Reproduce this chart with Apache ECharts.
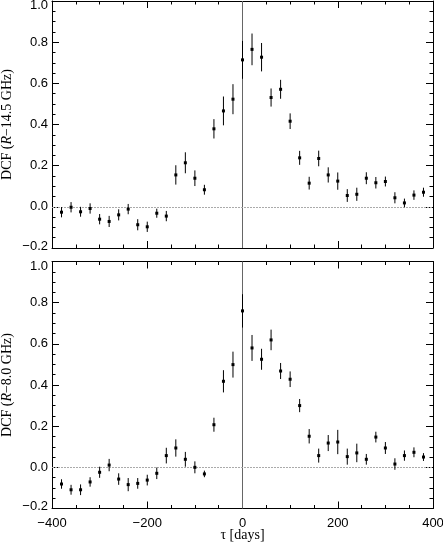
<!DOCTYPE html>
<html>
<head>
<meta charset="utf-8">
<script src="https://cdn.jsdelivr.net/npm/echarts@6/dist/echarts.min.js"></script>
<style>
  html, body { margin: 0; padding: 0; background: #fff; }
  #chart { width: 443px; height: 544px; }
</style>
</head>
<body>
<div id="chart"></div>
<script>
// time lags (days)
var taus = [-380, -360, -340, -320, -300, -280, -260, -240, -220, -200,
            -180, -160, -140, -120, -100, -80, -60, -40, -20, 0,
            20, 40, 60, 80, 100, 120, 140, 160, 180, 200,
            220, 240, 260, 280, 300, 320, 340, 360, 380];

// DCF R - 14.5 GHz
var dcf14 = [-0.026, -0.002, -0.024, -0.008, -0.060, -0.071, -0.039, -0.011, -0.087, -0.097,
             -0.031, -0.045, 0.155, 0.214, 0.139, 0.083, 0.379, 0.466, 0.523, 0.714,
             0.765, 0.727, 0.531, 0.571, 0.416, 0.238, 0.115, 0.235, 0.155, 0.125,
             0.055, 0.061, 0.139, 0.117, 0.123, 0.044, 0.019, 0.057, 0.071];
var err14 = [0.025, 0.025, 0.024, 0.025, 0.025, 0.027, 0.027, 0.025, 0.027, 0.025,
             0.022, 0.025, 0.047, 0.051, 0.038, 0.024, 0.047, 0.070, 0.073, 0.092,
             0.077, 0.069, 0.044, 0.046, 0.038, 0.034, 0.031, 0.038, 0.037, 0.042,
             0.031, 0.032, 0.029, 0.028, 0.024, 0.027, 0.021, 0.023, 0.022];

// DCF R - 8.0 GHz
var dcf8 = [-0.081, -0.109, -0.109, -0.071, -0.024, 0.011, -0.057, -0.084, -0.078, -0.062,
            -0.029, 0.057, 0.094, 0.039, 0.000, -0.032, 0.207, 0.418, 0.499, 0.760,
            0.580, 0.525, 0.619, 0.468, 0.428, 0.300, 0.151, 0.057, 0.118, 0.123,
            0.052, 0.070, 0.039, 0.147, 0.094, 0.016, 0.057, 0.073, 0.050];
var err8 = [0.023, 0.024, 0.026, 0.023, 0.027, 0.030, 0.028, 0.032, 0.026, 0.026,
            0.028, 0.038, 0.042, 0.036, 0.029, 0.016, 0.034, 0.054, 0.063, 0.081,
            0.063, 0.051, 0.050, 0.039, 0.038, 0.032, 0.035, 0.034, 0.039, 0.059,
            0.039, 0.045, 0.026, 0.026, 0.029, 0.028, 0.025, 0.024, 0.019];

var xTicks = [-400, -200, 0, 200, 400];
var yTicks = [-0.2, 0.0, 0.2, 0.4, 0.6, 0.8, 1.0];

function pack(vals, errs) {
  return taus.map(function (t, i) { return [t, vals[i], errs[i]]; });
}

function renderItem(params, api) {
  var t = api.value(0), v = api.value(1), e = api.value(2);
  var p = api.coord([t, v]);
  var hi = api.coord([t, v + e]);
  var lo = api.coord([t, v - e]);
  return {
    type: 'group',
    children: [
      { type: 'line', shape: { x1: p[0], y1: hi[1], x2: p[0], y2: lo[1] },
        style: { stroke: '#000', lineWidth: 1 } },
      { type: 'rect', shape: { x: p[0] - 1.5, y: p[1] - 1.5, width: 3, height: 3 },
        style: { fill: '#000' } }
    ]
  };
}

var sans = 'Liberation Sans';
var serif = 'Liberation Serif';
var fmtNum = function (v) { return String(v).replace('-', '\u2212'); };

function xAx(grid, pos, labels, name) {
  return {
    type: 'value', gridIndex: grid, position: pos,
    min: xTicks[0], max: xTicks[xTicks.length - 1], interval: 200,
    axisLine: { show: true, onZero: false, lineStyle: { color: '#000', width: 1 } },
    axisTick: { show: true, inside: true, length: 7, lineStyle: { color: '#000' } },
    minorTick: { show: true, splitNumber: 4, length: 3.5, lineStyle: { color: '#000' } },
    splitLine: { show: false },
    axisLabel: { show: labels, color: '#000', fontFamily: sans, fontSize: 13, margin: 8,
                 formatter: fmtNum },
    name: name || '', nameLocation: 'middle', nameGap: 20, nameMoveOverlap: false,
    nameTextStyle: { fontFamily: serif, fontSize: 14, color: '#000' }
  };
}

function yAx(grid, pos, labels, name) {
  return {
    type: 'value', gridIndex: grid, position: pos,
    min: yTicks[0], max: yTicks[yTicks.length - 1], interval: 0.2,
    axisLine: { show: true, onZero: false, lineStyle: { color: '#000', width: 1 } },
    axisTick: { show: true, inside: true, length: 7, lineStyle: { color: '#000' } },
    minorTick: { show: true, splitNumber: 4, length: 3.5, lineStyle: { color: '#000' } },
    splitLine: { show: false },
    axisLabel: {
      show: labels, color: '#000', fontFamily: sans, fontSize: 13, margin: 4,
      formatter: function (v) {
        var s = fmtNum(v.toFixed(1));
        if (v >= 0.99) return '{top|' + s + '}';
        if (v <= -0.19) return '{bot|' + s + '}';
        return s;
      },
      rich: {
        top: { fontFamily: sans, fontSize: 13, color: '#000', padding: [9, 0, 0, 0] },
        bot: { fontFamily: sans, fontSize: 13, color: '#000', padding: [0, 0, 4, 0] }
      }
    },
    name: name || '', nameLocation: 'middle', nameGap: 38, nameRotate: 90, nameMoveOverlap: false,
    nameTextStyle: { fontFamily: serif, fontSize: 14, color: '#000',
                     rich: { i: { fontFamily: serif, fontSize: 14, fontStyle: 'italic', color: '#000' } } }
  };
}

function refSeries(xi, yi) {
  return {
    type: 'custom', xAxisIndex: xi, yAxisIndex: yi, z: 1, data: [],
    renderItem: function () { return null; },
    markLine: {
      silent: true, symbol: 'none', label: { show: false }, animation: false,
      data: [
        { xAxis: 0, lineStyle: { color: '#666', width: 1, type: 'solid' } },
        { yAxis: 0, lineStyle: { color: '#aaa', width: 1, type: [2, 1] } }
      ]
    }
  };
}

var chart = echarts.init(document.getElementById('chart'));
chart.setOption({
  animation: false,
  backgroundColor: '#fff',
  grid: [
    { left: 52, top: 1, width: 381, height: 247, outerBoundsMode: 'none', containLabel: false },
    { left: 52, top: 261.5, width: 381, height: 247, outerBoundsMode: 'none', containLabel: false }
  ],
  xAxis: [
    xAx(0, 'bottom', false),
    xAx(0, 'top', false),
    xAx(1, 'bottom', true, '\u03c4 [days]'),
    xAx(1, 'top', false)
  ],
  yAxis: [
    yAx(0, 'left', true, 'DCF ({i|R}\u221214.5 GHz)'),
    yAx(0, 'right', false),
    yAx(1, 'left', true, 'DCF ({i|R}\u22128.0 GHz)'),
    yAx(1, 'right', false)
  ],
  series: [
    refSeries(0, 0),
    refSeries(2, 2),
    { type: 'custom', xAxisIndex: 0, yAxisIndex: 0, renderItem: renderItem,
      data: pack(dcf14, err14), z: 5 },
    { type: 'custom', xAxisIndex: 2, yAxisIndex: 2, renderItem: renderItem,
      data: pack(dcf8, err8), z: 5 }
  ]
});
</script>
</body>
</html>
